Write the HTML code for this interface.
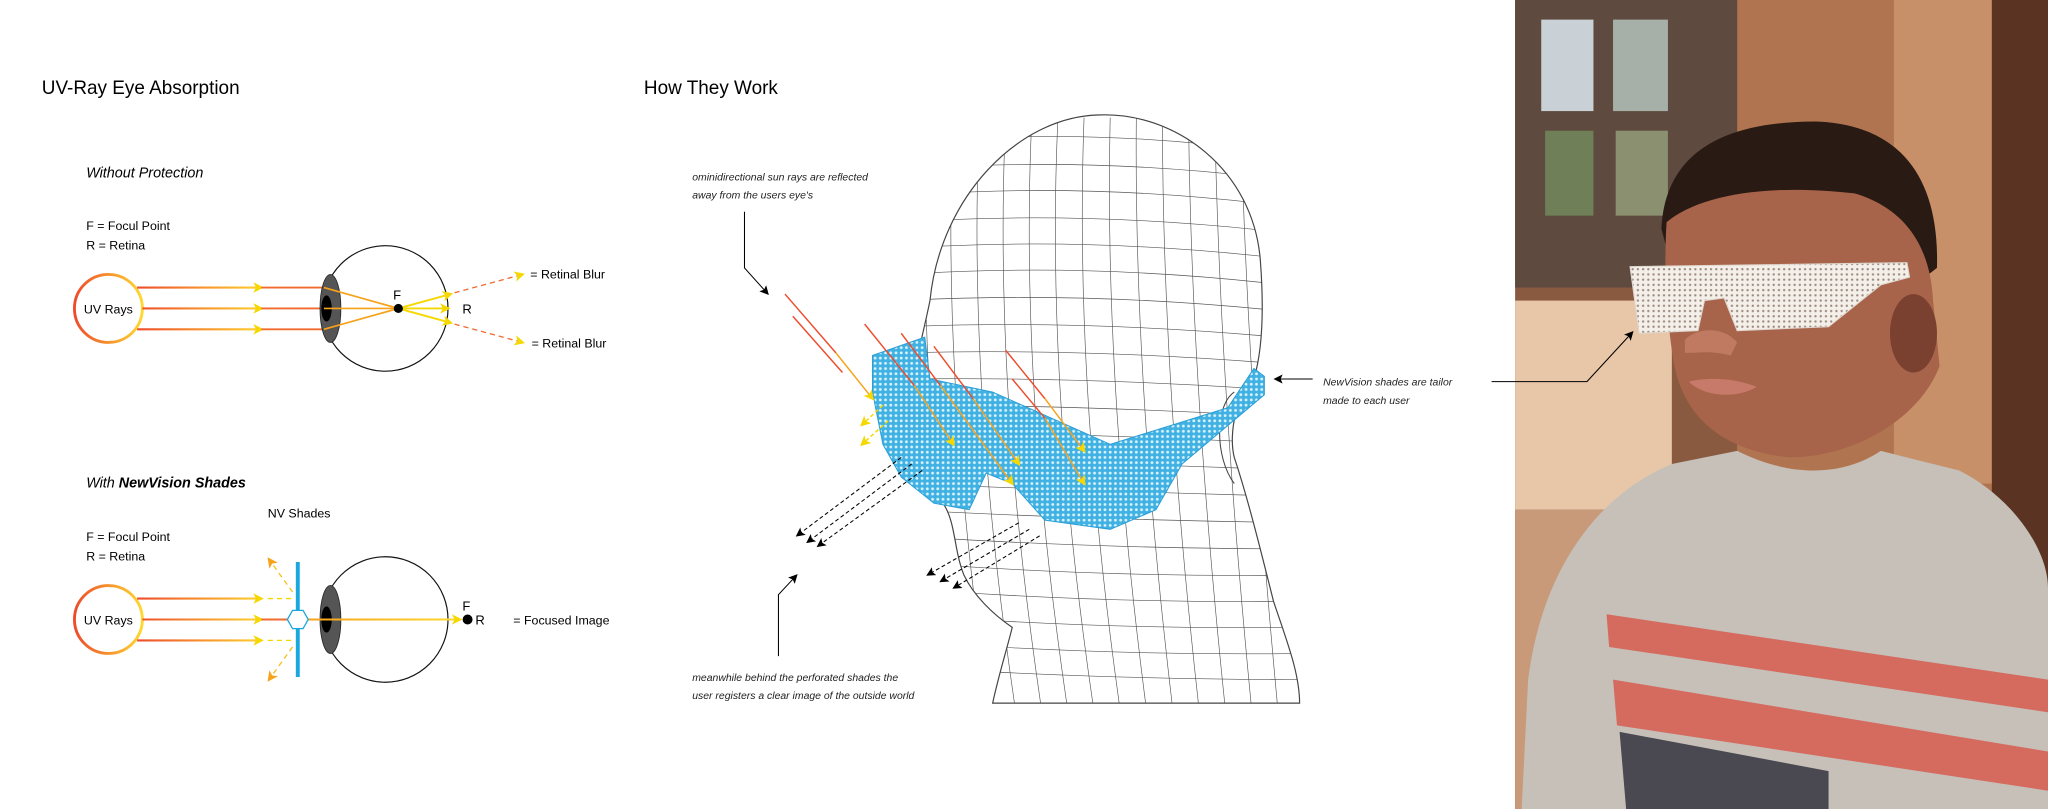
<!DOCTYPE html>
<html><head><meta charset="utf-8"><style>
html,body{margin:0;padding:0;background:#fff;}
svg{display:block}
text{font-family:"Liberation Sans",sans-serif;}
</style></head><body>
<svg width="2048" height="809" viewBox="0 0 1568 619" preserveAspectRatio="none" xmlns="http://www.w3.org/2000/svg">
<defs>
<linearGradient id="ring" x1="0" y1="0" x2="1" y2="0"><stop offset="0" stop-color="#ee4b2b"/><stop offset="1" stop-color="#ffd92f"/></linearGradient>
<linearGradient id="ray" gradientUnits="userSpaceOnUse" x1="105" y1="0" x2="205" y2="0"><stop offset="0" stop-color="#ee4b2b"/><stop offset="1" stop-color="#ffd92f"/></linearGradient>
<linearGradient id="ray2" gradientUnits="userSpaceOnUse" x1="236" y1="0" x2="352" y2="0"><stop offset="0" stop-color="#f7a21b"/><stop offset="1" stop-color="#ffd92f"/></linearGradient>
<marker id="ya" markerWidth="8" markerHeight="8" refX="6" refY="4" orient="auto" markerUnits="userSpaceOnUse"><path d="M0,0 L8,4 L0,8 L2,4Z" fill="#f5d800"/></marker>
<marker id="oa" markerWidth="8" markerHeight="8" refX="6" refY="4" orient="auto" markerUnits="userSpaceOnUse"><path d="M0,0 L8,4 L0,8 L2,4Z" fill="#f7a21b"/></marker>
<marker id="ka" markerWidth="7" markerHeight="7" refX="6" refY="3.5" orient="auto" markerUnits="userSpaceOnUse"><path d="M0,0 L7,3.5 L0,7 L1.5,3.5Z" fill="#000"/></marker>
<pattern id="dots" width="4" height="4" patternUnits="userSpaceOnUse"><rect width="4" height="4" fill="#3fb1e3"/><circle cx="2" cy="2" r="1.1" fill="#d9f1fb"/></pattern>
<pattern id="wdots" width="4" height="4" patternUnits="userSpaceOnUse"><rect width="4" height="4" fill="#f4efe8"/><circle cx="2" cy="2" r="0.9" fill="#9a8a80"/></pattern>
<clipPath id="head"><path d="M840,88 C900,85 960,130 965,200 C968,240 966,270 960,290 C948,300 940,330 945,350 C955,380 965,420 975,460 C985,490 995,515 995,538 L760,538 C765,515 770,500 775,480 C760,470 745,455 738,440 C730,420 732,400 722,385 C708,370 698,350 698,330 C694,300 706,260 712,230 C720,150 780,90 840,88Z"/></clipPath>
</defs>

<text x="32" y="72" font-size="14.5">UV-Ray Eye Absorption</text>
<text x="66" y="136" font-size="11" font-style="italic">Without Protection</text>
<text x="66" y="176" font-size="9.5">F = Focul Point</text>
<text x="66" y="191" font-size="9.5">R = Retina</text>

<g>
<circle cx="83" cy="236" r="26" fill="none" stroke="url(#ring)" stroke-width="2.2"/>
<text x="83" y="240" font-size="9.5" text-anchor="middle">UV Rays</text>
<line x1="105" y1="220" x2="200" y2="220" stroke="url(#ray)" stroke-width="1.6" marker-end="url(#ya)"/>
<line x1="109" y1="236" x2="200" y2="236" stroke="url(#ray)" stroke-width="1.6" marker-end="url(#ya)"/>
<line x1="105" y1="252" x2="200" y2="252" stroke="url(#ray)" stroke-width="1.6" marker-end="url(#ya)"/>
<line x1="200" y1="220" x2="248" y2="220" stroke="#f26a2e" stroke-width="1.4"/>
<line x1="200" y1="236" x2="248" y2="236" stroke="#f26a2e" stroke-width="1.4"/>
<line x1="200" y1="252" x2="248" y2="252" stroke="#f26a2e" stroke-width="1.4"/>
<circle cx="295" cy="236" r="48" fill="none" stroke="#111" stroke-width="0.9"/>
<ellipse cx="253" cy="236" rx="8" ry="26" fill="#555" stroke="#222" stroke-width="0.6"/>
<ellipse cx="250" cy="236" rx="4" ry="10" fill="#000"/>
<line x1="248" y1="220" x2="305" y2="236" stroke="#f7a21b" stroke-width="1.3"/>
<line x1="248" y1="252" x2="305" y2="236" stroke="#f7a21b" stroke-width="1.3"/>
<line x1="248" y1="236" x2="305" y2="236" stroke="#f7a21b" stroke-width="1.3"/>
<line x1="305" y1="236" x2="345" y2="225" stroke="#f5d800" stroke-width="1.4" marker-end="url(#ya)"/>
<line x1="305" y1="236" x2="345" y2="247" stroke="#f5d800" stroke-width="1.4" marker-end="url(#ya)"/>
<line x1="305" y1="236" x2="343" y2="236" stroke="#f5d800" stroke-width="1.4" marker-end="url(#ya)"/>
<line x1="348" y1="224" x2="400" y2="210" stroke="#f26a2e" stroke-width="1" stroke-dasharray="4,3" marker-end="url(#ya)"/>
<line x1="348" y1="248" x2="400" y2="262" stroke="#f26a2e" stroke-width="1" stroke-dasharray="4,3" marker-end="url(#ya)"/>
<circle cx="305" cy="236" r="3.5" fill="#000"/>
<text x="301" y="229" font-size="10">F</text>
<text x="354" y="240" font-size="10">R</text>
<text x="406" y="213" font-size="9.5">= Retinal Blur</text>
<text x="407" y="266" font-size="9.5">= Retinal Blur</text>
</g>

<text x="66" y="373" font-size="11" font-style="italic">With <tspan font-weight="bold">NewVision Shades</tspan></text>
<text x="66" y="414" font-size="9.5">F = Focul Point</text>
<text x="66" y="429" font-size="9.5">R = Retina</text>
<text x="205" y="396" font-size="9.5">NV Shades</text>

<g>
<circle cx="83" cy="474" r="26" fill="none" stroke="url(#ring)" stroke-width="2.2"/>
<text x="83" y="478" font-size="9.5" text-anchor="middle">UV Rays</text>
<line x1="105" y1="458" x2="200" y2="458" stroke="url(#ray)" stroke-width="1.6" marker-end="url(#ya)"/>
<line x1="109" y1="474" x2="200" y2="474" stroke="url(#ray)" stroke-width="1.6" marker-end="url(#ya)"/>
<line x1="105" y1="490" x2="200" y2="490" stroke="url(#ray)" stroke-width="1.6" marker-end="url(#ya)"/>
<line x1="205" y1="458" x2="225" y2="458" stroke="#f5d800" stroke-width="1" stroke-dasharray="4,3"/>
<line x1="205" y1="490" x2="225" y2="490" stroke="#f5d800" stroke-width="1" stroke-dasharray="4,3"/>
<line x1="224" y1="453" x2="206" y2="428" stroke="#f5c020" stroke-width="1" stroke-dasharray="4,3" marker-end="url(#oa)"/>
<line x1="224" y1="495" x2="206" y2="520" stroke="#f5c020" stroke-width="1" stroke-dasharray="4,3" marker-end="url(#oa)"/>
<line x1="200" y1="474" x2="236" y2="474" stroke="#f26a2e" stroke-width="1.6"/>
<line x1="228" y1="430" x2="228" y2="518" stroke="#1aa7e0" stroke-width="3"/>
<circle cx="295" cy="474" r="48" fill="none" stroke="#111" stroke-width="0.9"/>
<ellipse cx="253" cy="474" rx="8" ry="26" fill="#555" stroke="#222" stroke-width="0.6"/>
<ellipse cx="250" cy="474" rx="4" ry="10" fill="#000"/>
<line x1="236" y1="474" x2="352" y2="474" stroke="url(#ray2)" stroke-width="1.6" marker-end="url(#ya)"/>
<polygon points="220,474 224,467 232,467 236,474 232,481 224,481" fill="#fff" stroke="#1aa7e0" stroke-width="1"/>
<circle cx="358" cy="474" r="3.8" fill="#000"/>
<text x="354" y="467" font-size="10">F</text>
<text x="364" y="478" font-size="10">R</text>
<text x="393" y="478" font-size="9.5">= Focused Image</text>
</g>

<text x="493" y="72" font-size="14.5">How They Work</text>
<text font-size="8" font-style="italic" fill="#222"><tspan x="530" y="138">ominidirectional sun rays are reflected</tspan><tspan x="530" y="152">away from the users eye's</tspan></text>
<polyline points="570,162 570,205 588,225" fill="none" stroke="#000" stroke-width="0.8" marker-end="url(#ka)"/>
<text font-size="8" font-style="italic" fill="#222"><tspan x="1013" y="295">NewVision shades are tailor</tspan><tspan x="1013" y="309">made to each user</tspan></text>
<line x1="1005" y1="290" x2="976" y2="290" stroke="#000" stroke-width="0.8" marker-end="url(#ka)"/>
<text font-size="8" font-style="italic" fill="#222"><tspan x="530" y="521">meanwhile behind the perforated shades the</tspan><tspan x="530" y="535">user registers a clear image of the outside world</tspan></text>
<polyline points="596,502 596,455 610,440" fill="none" stroke="#000" stroke-width="0.8" marker-end="url(#ka)"/>

<g clip-path="url(#head)" stroke="#555" stroke-width="0.5" fill="none">
<path d="M690,110 Q840,95 1000,120"/><path d="M690,130 Q840,118 1000,140"/><path d="M690,150 Q840,138 1000,160"/>
<path d="M690,170 Q840,160 1000,180"/><path d="M690,190 Q840,180 1000,200"/><path d="M690,210 Q840,200 1000,220"/>
<path d="M690,230 Q840,222 1000,240"/><path d="M690,250 Q840,244 1000,260"/><path d="M690,270 Q840,266 1000,280"/>
<path d="M690,290 Q840,288 1000,300"/><path d="M690,310 Q840,310 1000,320"/><path d="M690,330 Q840,332 1000,340"/>
<path d="M690,350 Q840,354 1000,360"/><path d="M690,370 Q840,376 1000,380"/><path d="M690,390 Q840,398 1000,400"/>
<path d="M690,410 Q840,420 1000,420"/><path d="M690,430 Q840,442 1000,440"/><path d="M690,450 Q840,462 1000,460"/>
<path d="M690,470 Q840,482 1000,480"/><path d="M690,490 Q840,502 1000,500"/><path d="M690,510 Q840,520 1000,520"/>
<path d="M710,90 Q700,300 740,560"/><path d="M730,90 Q720,300 760,560"/><path d="M750,90 Q740,300 780,560"/><path d="M770,90 Q760,300 800,560"/>
<path d="M790,90 Q780,300 820,560"/><path d="M810,90 Q800,300 840,560"/><path d="M830,90 Q822,300 860,560"/>
<path d="M850,90 Q845,300 880,560"/><path d="M870,90 Q868,300 900,560"/><path d="M890,90 Q890,300 920,560"/>
<path d="M910,90 Q912,300 940,560"/><path d="M930,90 Q934,300 960,560"/><path d="M950,90 Q955,300 980,560"/>
<path d="M970,90 Q975,300 1000,560"/>
</g>
<path d="M840,88 C900,85 960,130 965,200 C968,240 966,270 960,290 C948,300 940,330 945,350 C955,380 965,420 975,460 C985,490 995,515 995,538 L760,538 C765,515 770,500 775,480 C760,470 745,455 738,440 C730,420 732,400 722,385 C708,370 698,350 698,330 C694,300 706,260 712,230 C720,150 780,90 840,88Z" fill="none" stroke="#444" stroke-width="0.9"/>
<path d="M945,300 C930,310 930,350 945,370" fill="none" stroke="#444" stroke-width="0.8"/>

<path d="M668,272 L708,258 L712,290 L760,300 L850,340 L940,312 L960,282 L968,288 L968,302 L905,355 L885,390 L850,405 L800,398 L775,370 L755,362 L742,390 L715,385 L690,365 L676,340 L668,300Z" fill="url(#dots)" stroke="#2a9fd6" stroke-width="0.8"/>

<g stroke-width="1.1" fill="none">
<line x1="601" y1="225" x2="640" y2="270" stroke="#ee4b2b"/><line x1="640" y1="270" x2="668" y2="305" stroke="#f7a21b" marker-end="url(#ya)"/>
<line x1="607" y1="242" x2="645" y2="285" stroke="#ee4b2b"/>
<line x1="662" y1="248" x2="700" y2="295" stroke="#ee4b2b"/><line x1="700" y1="295" x2="730" y2="340" stroke="#f7a21b" marker-end="url(#ya)"/>
<line x1="690" y1="255" x2="720" y2="295" stroke="#ee4b2b"/><line x1="720" y1="295" x2="775" y2="370" stroke="#f7a21b" marker-end="url(#ya)"/>
<line x1="715" y1="265" x2="745" y2="305" stroke="#ee4b2b"/><line x1="745" y1="305" x2="780" y2="355" stroke="#f7a21b" marker-end="url(#ya)"/>
<line x1="770" y1="268" x2="800" y2="305" stroke="#ee4b2b"/><line x1="800" y1="305" x2="830" y2="345" stroke="#f7a21b" marker-end="url(#ya)"/>
<line x1="775" y1="290" x2="800" y2="320" stroke="#ee4b2b"/><line x1="800" y1="320" x2="830" y2="370" stroke="#f7a21b" marker-end="url(#ya)"/>
<line x1="676" y1="310" x2="660" y2="325" stroke="#f5d800" stroke-dasharray="3,2" marker-end="url(#ya)"/>
<line x1="680" y1="322" x2="660" y2="340" stroke="#f5d800" stroke-dasharray="3,2" marker-end="url(#ya)"/>
</g>
<g stroke="#000" stroke-width="0.8" stroke-dasharray="3,2" fill="none">
<line x1="690" y1="350" x2="610" y2="410" marker-end="url(#ka)"/>
<line x1="698" y1="355" x2="618" y2="415" marker-end="url(#ka)"/>
<line x1="706" y1="360" x2="626" y2="418" marker-end="url(#ka)"/>
<line x1="780" y1="400" x2="710" y2="440" marker-end="url(#ka)"/>
<line x1="788" y1="405" x2="720" y2="445" marker-end="url(#ka)"/>
<line x1="796" y1="410" x2="730" y2="450" marker-end="url(#ka)"/>
</g>

<g>
<rect x="1160" y="0" width="408" height="619" fill="#8a5a40"/>
<rect x="1330" y="0" width="238" height="619" fill="#b07550"/>
<rect x="1450" y="0" width="118" height="370" fill="#c89068"/>
<rect x="1525" y="0" width="43" height="619" fill="#5a3322"/>
<rect x="1160" y="0" width="170" height="220" fill="#5e4a3e"/>
<rect x="1180" y="15" width="40" height="70" fill="#c9d0d6"/>
<rect x="1235" y="15" width="42" height="70" fill="#a6b0a8"/>
<rect x="1183" y="100" width="37" height="65" fill="#6f7f58"/>
<rect x="1237" y="100" width="40" height="65" fill="#8a9070"/>
<rect x="1160" y="230" width="120" height="160" fill="#e8c7a8"/>
<rect x="1160" y="390" width="70" height="229" fill="#c89a7a"/>
<path d="M1165,619 L1170,520 C1180,440 1220,380 1280,355 L1330,345 C1370,365 1410,365 1440,345 L1500,360 C1540,380 1568,420 1568,450 L1568,619Z" fill="#c6c0b9"/>
<path d="M1230,470 L1568,520 L1568,545 L1232,495Z" fill="#d56a5e"/>
<path d="M1235,520 L1568,575 L1568,605 L1238,555Z" fill="#d56a5e"/>
<path d="M1240,560 L1400,590 L1400,619 L1245,619Z" fill="#4a4850"/>
<path d="M1272,175 C1275,110 1330,93 1390,93 C1450,95 1485,130 1483,205 L1470,215 L1280,205Z" fill="#2a1a14"/>
<path d="M1276,170 C1300,150 1350,140 1420,148 C1460,160 1478,190 1480,230 L1485,280 C1470,320 1420,350 1370,350 C1320,345 1290,320 1282,280 C1275,240 1274,200 1276,170Z" fill="#a8644a"/>
<ellipse cx="1465" cy="255" rx="18" ry="30" fill="#7a4030"/>
<path d="M1290,260 C1300,250 1320,250 1330,262 L1325,272 C1310,268 1300,270 1290,270Z" fill="#c07a62"/>
<path d="M1293,292 C1310,288 1330,290 1345,296 C1330,305 1305,304 1293,292Z" fill="#c87a6a"/>
<path d="M1248,204 L1460,201 L1462,212 L1440,218 L1400,250 L1330,253 L1320,228 L1305,230 L1300,253 L1255,255 Z" fill="url(#wdots)" stroke="#e0d8d0" stroke-width="0.8"/>
</g>
<polyline points="1142,292 1215,292 1250,254" fill="none" stroke="#000" stroke-width="0.8" marker-end="url(#ka)"/>
</svg>
</body></html>
